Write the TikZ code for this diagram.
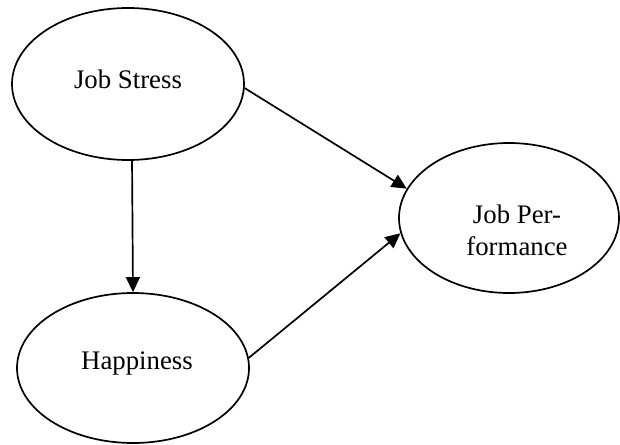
\documentclass[tikz,border=0pt]{standalone}
\usepackage{fontspec}
\setmainfont{Liberation Serif}
\usetikzlibrary{shapes.geometric,arrows.meta}
\begin{document}
\begin{tikzpicture}[x=1pt,y=-1pt,
  construct/.style={draw=black,line width=1.7pt,ellipse,inner sep=0pt},
  lbl/.style={inner sep=0pt,font=\fontsize{26.8}{32}\selectfont,align=center},
  path/.style={draw=black,line width=1.7pt,-{Triangle[length=15pt,width=14pt]}}]
  \useasboundingbox (0,0) rectangle (620,444);
  % latent constructs
  \node[construct,minimum width=232pt,minimum height=152pt] (js) at (128,84) {};
  \node[construct,minimum width=232pt,minimum height=150pt] (hp) at (133,368) {};
  \node[construct,minimum width=220pt,minimum height=150pt] (jp) at (509,218) {};
  % construct names
  \node[lbl,anchor=base] (jsname) at (128,88) {Job Stress};
  \node[lbl,anchor=base] (hpname) at (137,369) {Happiness};
  \node[lbl,anchor=north] (jpname) at (517,205) {Job Per-\\formance};
  % structural paths
  \draw[path] (js.-87) -- (hp.north);
  \draw[path] (js.-2) -- (jp.164);
  \draw[path] (hp.5) -- (jp.188);
\end{tikzpicture}
\end{document}
